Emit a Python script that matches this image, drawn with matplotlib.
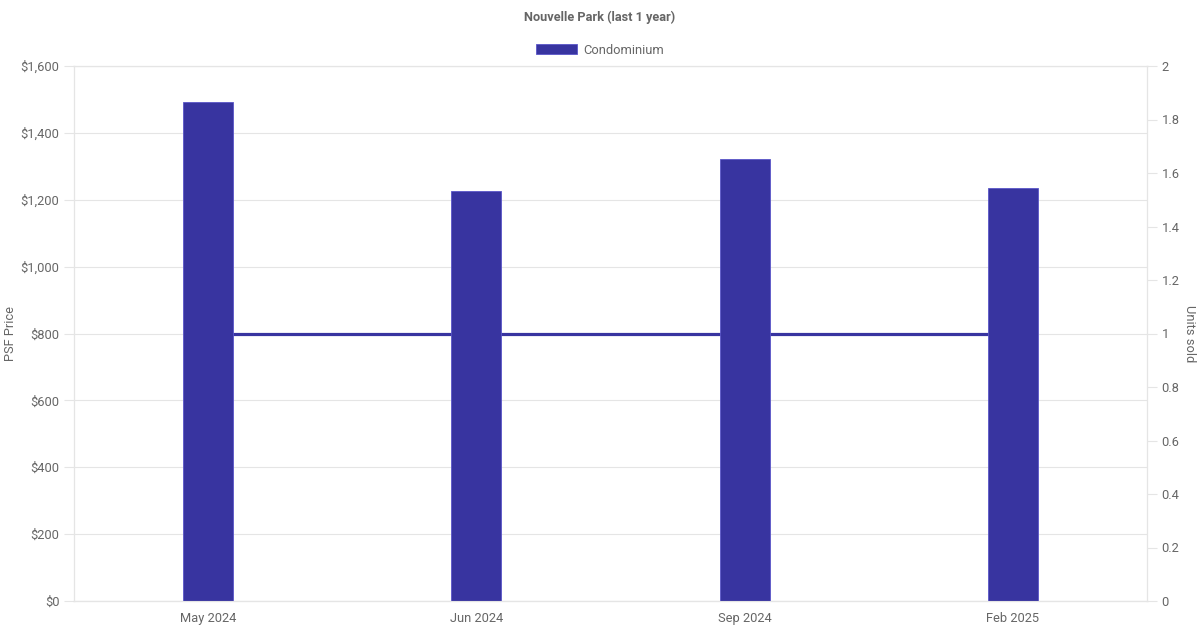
import matplotlib.pyplot as plt
import matplotlib.transforms as mtransforms

plt.rcParams['font.family'] = ['Roboto', 'DejaVu Sans']

months = ["May 2024", "Jun 2024", "Sep 2024", "Feb 2025"]
psf_price = [1491, 1225, 1322, 1236]
units_sold = [1, 1, 1, 1]

bar_color = '#3834a0'
grid_color = '#e5e5e5'
text_color = '#666666'

fig = plt.figure(figsize=(12, 6.3), dpi=100)
ax = fig.add_axes([74 / 1200, 29 / 630, 1073 / 1200, 535 / 630])
ax2 = ax.twinx()

x = list(range(len(months)))
ax.bar(x, psf_price, width=0.186, color=bar_color, edgecolor='#5a56c8',
       linewidth=0.6, zorder=3, label='Condominium')

# units line lives on the right scale, but drawn under the bars
tr = mtransforms.blended_transform_factory(ax.transData, ax2.transData)
ax.plot(x, units_sold, color=bar_color, linewidth=2.3, zorder=2, transform=tr)

ax.set_xlim(-0.5, 3.5)
ax.set_ylim(0, 1600)
ax2.set_ylim(0, 2)
ax.set_yticks(range(0, 1601, 200))
ax.set_yticklabels([f"${v:,}" for v in range(0, 1601, 200)])
ax2.set_yticks([i / 5 for i in range(11)])
ax2.set_yticklabels(['0', '0.2', '0.4', '0.6', '0.8', '1', '1.2', '1.4', '1.6', '1.8', '2'])
ax.set_xticks(x)
ax.set_xticklabels(months)

ax.grid(axis='y', color=grid_color, linewidth=0.8, zorder=0)
ax.set_axisbelow(True)

for a in (ax, ax2):
    for s in a.spines.values():
        s.set_color(grid_color)
        s.set_linewidth(0.8)
    a.tick_params(colors=grid_color, labelcolor=text_color, labelsize=9.3,
                  length=7, width=0.8)
ax.spines['bottom'].set_color('#cccccc')
ax.tick_params(axis='x', length=0, pad=8)

label_y = 0.5 * (29 + 564) / 630
ax.set_ylabel("PSF Price", color=text_color, fontsize=9.3, va='center')
ax.yaxis.set_label_coords(11 / 1200, label_y, transform=fig.transFigure)
ax2.set_ylabel("Units sold", color=text_color, fontsize=9.3, rotation=270, va='center')
ax2.yaxis.set_label_coords(1189 / 1200, label_y, transform=fig.transFigure)

fig.text(0.5, 1 - 17 / 630, "Nouvelle Park (last 1 year)", ha='center', va='center',
         fontsize=9.2, fontweight='bold', color=text_color)

ax.legend(loc='center', bbox_to_anchor=(0.5, 1 - 50 / 630), bbox_transform=fig.transFigure,
          frameon=False, fontsize=9.3, labelcolor=text_color, handlelength=3.2,
          handleheight=0.8, handletextpad=0.5)

fig.savefig("out.png", dpi=100)
